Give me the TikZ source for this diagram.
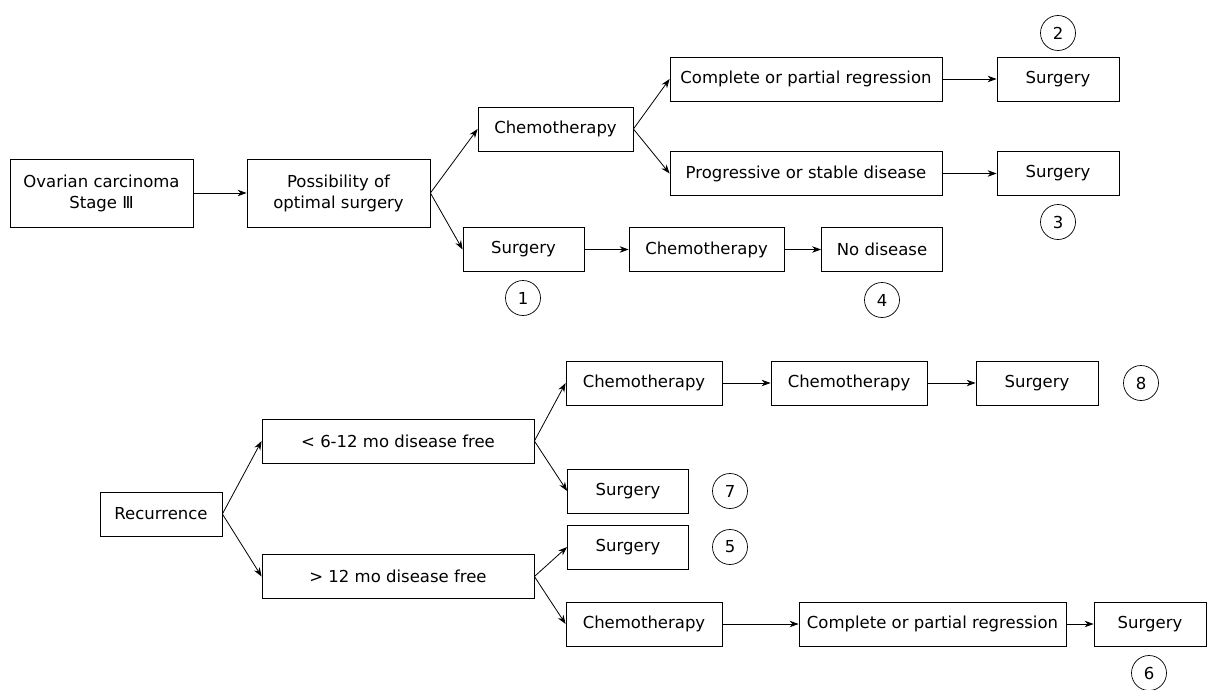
\documentclass[tikz,border=0pt]{standalone}
\usepackage{fontspec}
\setmainfont{DejaVu Sans}
\usetikzlibrary{arrows.meta,positioning}

\begin{document}
\begin{tikzpicture}[x=1pt, y=-1pt,
    box/.style={rectangle, draw, line width=0.8pt, minimum height=44pt, inner sep=0pt, align=center, font=\fontsize{16.5}{21}\selectfont},
    num/.style={circle, draw, line width=0.7pt, minimum size=35pt, inner sep=0pt, font=\fontsize{16.5}{20}\selectfont},
    arr/.style={-{Stealth[length=9pt,width=6.5pt]}, line width=0.8pt}]
    \useasboundingbox (0,0) rectangle (1209,690);

    \node[box, minimum width=183pt, minimum height=68pt] (ovarian) at (101.5,193) {Ovarian carcinoma\\Stage Ⅲ};
    \node[box, minimum width=183pt, minimum height=68pt] (possible) at (338.5,193) {Possibility of\\optimal surgery};
    \node[box, minimum width=155pt] (chemoA) at (555.5,129) {Chemotherapy};
    \node[box, minimum width=272pt] (regressA) at (806,79) {Complete or partial regression};
    \node[box, minimum width=122pt] (surgA) at (1058,79) {Surgery};
    \node[box, minimum width=272pt] (progress) at (806,173.5) {Progressive or stable disease};
    \node[box, minimum width=122pt] (surgB) at (1058,173.5) {Surgery};
    \node[box, minimum width=121pt] (surgC) at (523.5,249.5) {Surgery};
    \node[box, minimum width=155pt] (chemoB) at (706.5,249.5) {Chemotherapy};
    \node[box, minimum width=121pt] (nodisease) at (882,249.5) {No disease};
    \node[num] (n1) at (523,298) {1};
    \node[num] (n2) at (1058,33) {2};
    \node[num] (n3) at (1058,222) {3};
    \node[num] (n4) at (882,300) {4};

    \node[box, minimum width=122pt] (recur) at (161,514) {Recurrence};
    \node[box, minimum width=272pt] (early) at (398,441) {< 6-12 mo disease free};
    \node[box, minimum width=272pt] (late) at (398,576.5) {> 12 mo disease free};
    \node[box, minimum width=156pt] (chemoC) at (644,383) {Chemotherapy};
    \node[box, minimum width=156pt] (chemoD) at (849,383) {Chemotherapy};
    \node[box, minimum width=122pt] (surgD) at (1037,383) {Surgery};
    \node[box, minimum width=121pt] (surgE) at (628,491) {Surgery};
    \node[box, minimum width=121pt] (surgF) at (628,547) {Surgery};
    \node[box, minimum width=156pt] (chemoE) at (644,624) {Chemotherapy};
    \node[box, minimum width=267pt] (regressB) at (932.5,624) {Complete or partial regression};
    \node[box, minimum width=112pt] (surgG) at (1150,624) {Surgery};
    \node[num] (n5) at (730,547) {5};
    \node[num] (n6) at (1149,673) {6};
    \node[num] (n7) at (730,491) {7};
    \node[num] (n8) at (1141,383) {8};

    \draw[arr] (ovarian) -- (possible);
    \draw[arr] (possible.east) -- (chemoA.west);
    \draw[arr] (possible.east) -- (surgC.west);
    \draw[arr] (chemoA.east) -- (regressA.west);
    \draw[arr] (chemoA.east) -- (progress.west);
    \draw[arr] (regressA) -- (surgA);
    \draw[arr] (progress) -- (surgB);
    \draw[arr] (surgC) -- (chemoB);
    \draw[arr] (chemoB) -- (nodisease);

    \draw[arr] (recur.east) -- (early.west);
    \draw[arr] (recur.east) -- (late.west);
    \draw[arr] (early.east) -- (chemoC.west);
    \draw[arr] (early.east) -- (surgE.west);
    \draw[arr] (chemoC) -- (chemoD);
    \draw[arr] (chemoD) -- (surgD);
    \draw[arr] (late.east) -- (surgF.west);
    \draw[arr] (late.east) -- (chemoE.west);
    \draw[arr] (chemoE) -- (regressB);
    \draw[arr] (regressB) -- (surgG);
\end{tikzpicture}
\end{document}
